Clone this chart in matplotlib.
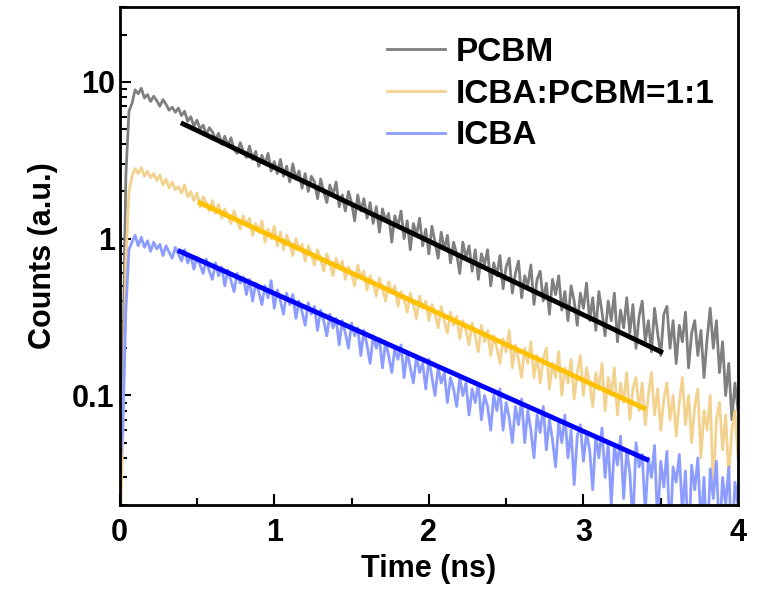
import matplotlib
matplotlib.use('Agg')
import matplotlib.pyplot as plt
import numpy as np

plt.rcParams['font.family'] = ['Liberation Sans', 'DejaVu Sans']
plt.rcParams['font.weight'] = 'bold'

# time axis, step 0.02 ns
time = np.arange(201) * 0.02

pcbm = [0.03, 0.15, 2.5, 6.5, 7.3, 8.9, 8.4, 9.1, 7.9, 8.3,
        7.5, 8.1, 7.6, 7.0, 7.7, 7.2, 6.6, 6.9, 6.4, 6.8,
        6.1, 6.5, 5.6, 6.0, 5.2, 5.7, 5.0, 5.3, 4.6, 5.1,
        4.8, 4.3, 4.7, 4.0, 4.5, 3.9, 4.4, 3.7, 3.5, 4.1,
        3.6, 3.3, 3.9, 3.2, 3.6, 2.9, 3.4, 3.0, 3.5, 2.7,
        3.1, 2.6, 3.2, 2.5, 2.9, 2.3, 3.0, 2.4, 2.7, 2.1,
        2.6, 2.0, 2.5, 2.3, 1.8, 2.4, 2.0, 1.7, 2.2, 1.9,
        2.3, 1.6, 1.9, 1.5, 2.0, 1.7, 1.3, 1.9, 1.5, 1.8,
        1.35, 1.7, 1.25, 1.6, 1.1, 1.55, 1.3, 1.45, 0.95, 1.4,
        1.2, 1.5, 1.0, 1.3, 0.85, 1.25, 1.05, 1.35, 0.9, 1.15,
        0.8, 1.2, 0.95, 0.75, 1.1, 0.85, 1.05, 0.7, 0.95, 0.8,
        0.6, 0.95, 0.75, 0.9, 0.62, 0.85, 0.55, 0.8, 0.68, 0.85,
        0.5, 0.7, 0.58, 0.78, 0.48, 0.66, 0.75, 0.45, 0.6, 0.72,
        0.42, 0.58, 0.5, 0.68, 0.38, 0.55, 0.62, 0.4, 0.52, 0.33,
        0.55, 0.44, 0.58, 0.35, 0.46, 0.3, 0.5, 0.4, 0.28, 0.45,
        0.36, 0.52, 0.3, 0.42, 0.26, 0.46, 0.34, 0.24, 0.4, 0.3,
        0.45, 0.22, 0.35, 0.27, 0.42, 0.25, 0.38, 0.2, 0.32, 0.4,
        0.22, 0.3, 0.19, 0.36, 0.25, 0.18, 0.33, 0.37, 0.2, 0.3,
        0.16, 0.28, 0.22, 0.34, 0.15, 0.25, 0.3, 0.18, 0.26, 0.13,
        0.23, 0.36, 0.2, 0.3, 0.14, 0.22, 0.1, 0.16, 0.07, 0.12,
        0.08]

mix = [0.012, 0.05, 0.7, 2.0, 2.5, 2.8, 2.6, 2.85, 2.5, 2.7,
       2.45, 2.6, 2.35, 2.55, 2.2, 2.4, 2.1, 2.3, 2.05, 2.15,
       1.95, 2.2, 1.85, 2.0, 1.75, 1.95, 1.6, 1.85, 1.7, 1.5,
       1.75, 1.45, 1.65, 1.35, 1.55, 1.4, 1.25, 1.5, 1.3, 1.15,
       1.4, 1.2, 1.35, 1.05, 1.25, 1.1, 1.3, 0.95, 1.15, 1.0,
       1.2, 0.9, 1.1, 0.85, 1.05, 0.95, 0.78, 1.0, 0.85, 0.92,
       0.72, 0.9, 0.8, 0.68, 0.85, 0.74, 0.62, 0.8, 0.7, 0.58,
       0.75, 0.64, 0.72, 0.55, 0.66, 0.6, 0.5, 0.68, 0.56, 0.62,
       0.47, 0.58, 0.52, 0.43, 0.56, 0.48, 0.4, 0.53, 0.45, 0.5,
       0.37, 0.46, 0.41, 0.34, 0.45, 0.38, 0.31, 0.43, 0.36, 0.4,
       0.3, 0.38, 0.33, 0.27, 0.37, 0.3, 0.25, 0.34, 0.28, 0.32,
       0.23, 0.3, 0.26, 0.21, 0.29, 0.24, 0.19, 0.28, 0.22, 0.26,
       0.18, 0.24, 0.2, 0.16, 0.23, 0.19, 0.26, 0.15, 0.21, 0.17,
       0.13, 0.2, 0.16, 0.22, 0.13, 0.18, 0.12, 0.17, 0.2, 0.11,
       0.16, 0.13, 0.19, 0.1, 0.15, 0.12, 0.17, 0.095, 0.14, 0.18,
       0.1, 0.15, 0.12, 0.085, 0.14, 0.11, 0.16, 0.08, 0.13, 0.1,
       0.15, 0.075, 0.12, 0.09, 0.14, 0.07, 0.11, 0.13, 0.08, 0.12,
       0.065, 0.1, 0.14, 0.075, 0.11, 0.06, 0.095, 0.12, 0.07, 0.1,
       0.055, 0.09, 0.13, 0.065, 0.1, 0.05, 0.085, 0.11, 0.04, 0.08,
       0.06, 0.1, 0.025, 0.07, 0.09, 0.045, 0.075, 0.03, 0.06, 0.08,
       0.04]

icba = [0.03, 0.06, 0.35, 0.85, 0.95, 1.05, 0.9, 1.02, 0.88, 0.97,
        0.83, 0.95, 0.86, 0.92, 0.78, 0.9, 0.82, 0.75, 0.88, 0.8,
        0.72, 0.85, 0.7, 0.78, 0.64, 0.76, 0.68, 0.6, 0.74, 0.62,
        0.55, 0.7, 0.58, 0.66, 0.5, 0.63, 0.54, 0.46, 0.6, 0.52,
        0.57, 0.44, 0.55, 0.4, 0.52, 0.46, 0.38, 0.5, 0.42, 0.54,
        0.36, 0.47, 0.4, 0.33, 0.45, 0.38, 0.44, 0.31, 0.4, 0.34,
        0.28, 0.39, 0.33, 0.37, 0.26, 0.35, 0.3, 0.24, 0.33, 0.27,
        0.31, 0.21, 0.3, 0.25, 0.2, 0.29, 0.24, 0.27, 0.18, 0.26,
        0.21, 0.16, 0.24, 0.2, 0.23, 0.15, 0.22, 0.18, 0.14, 0.2,
        0.17, 0.21, 0.13, 0.19, 0.15, 0.12, 0.18, 0.14, 0.16, 0.11,
        0.17, 0.13, 0.1, 0.15, 0.12, 0.14, 0.09, 0.13, 0.11, 0.085,
        0.13, 0.1, 0.12, 0.075, 0.11, 0.09, 0.12, 0.07, 0.1, 0.085,
        0.06, 0.1, 0.08, 0.11, 0.06, 0.09, 0.072, 0.05, 0.085, 0.065,
        0.095, 0.05, 0.08, 0.06, 0.04, 0.075, 0.058, 0.085, 0.045, 0.07,
        0.052, 0.035, 0.068, 0.05, 0.075, 0.04, 0.06, 0.027, 0.055, 0.065,
        0.038, 0.058, 0.045, 0.025, 0.055, 0.04, 0.062, 0.03, 0.05, 0.02,
        0.048, 0.036, 0.055, 0.022, 0.045, 0.032, 0.015, 0.05, 0.035, 0.042,
        0.018, 0.04, 0.03, 0.048, 0.015, 0.038, 0.026, 0.044, 0.012, 0.035,
        0.028, 0.042, 0.018, 0.033, 0.01, 0.036, 0.025, 0.04, 0.015, 0.03,
        0.01, 0.034, 0.022, 0.038, 0.012, 0.03, 0.02, 0.035, 0.01, 0.028,
        0.02]

# single-exponential fits (start/end points)
fit_pcbm_t = [0.41, 3.5]
fit_pcbm_y = [5.4, 0.19]
fit_mix_t = [0.52, 3.39]
fit_mix_y = [1.69, 0.083]
fit_icba_t = [0.39, 3.41]
fit_icba_y = [0.83, 0.039]

fig = plt.figure(figsize=(7.72, 5.9), dpi=100)
ax = fig.add_axes([0.155, 0.144, 0.801, 0.844])

ax.plot(time, pcbm, color='#7f7f7f', lw=2, label='PCBM')
ax.plot(time, mix, color='#f2d28e', lw=2, label='ICBA:PCBM=1:1')
ax.plot(time, icba, color='#8c9cff', lw=2, label='ICBA')

ax.plot(fit_pcbm_t, fit_pcbm_y, color='black', lw=3.5)
ax.plot(fit_mix_t, fit_mix_y, color='#ffc000', lw=3.5)
ax.plot(fit_icba_t, fit_icba_y, color='#0000ff', lw=3.5)

ax.set_yscale('log')
ax.set_xlim(0, 4)
ax.set_ylim(0.02, 30)
ax.set_xticks([0, 1, 2, 3, 4])
ax.set_xticks([0.5, 1.5, 2.5, 3.5], minor=True)
ax.set_yticks([0.1, 1, 10])
ax.set_yticklabels(['0.1', '1', '10'])
ax.tick_params(which='both', direction='in', width=1.5, labelsize=22)
ax.tick_params(which='major', length=8)
ax.tick_params(which='minor', length=5)
ax.tick_params(axis='x', pad=9)
for s in ax.spines.values():
    s.set_linewidth(2)

ax.set_xlabel('Time (ns)', fontsize=22, fontweight='bold', labelpad=5)
ax.set_ylabel('Counts (a.u.)', fontsize=22, fontweight='bold', labelpad=10)

leg = ax.legend(loc='upper right', frameon=False, fontsize=24,
                handlelength=1.75, labelspacing=0.32, handletextpad=0.3,
                bbox_to_anchor=(1.01, 1.0))
for h in leg.get_lines():
    h.set_linewidth(2)

fig.savefig('out.png', dpi=100)
